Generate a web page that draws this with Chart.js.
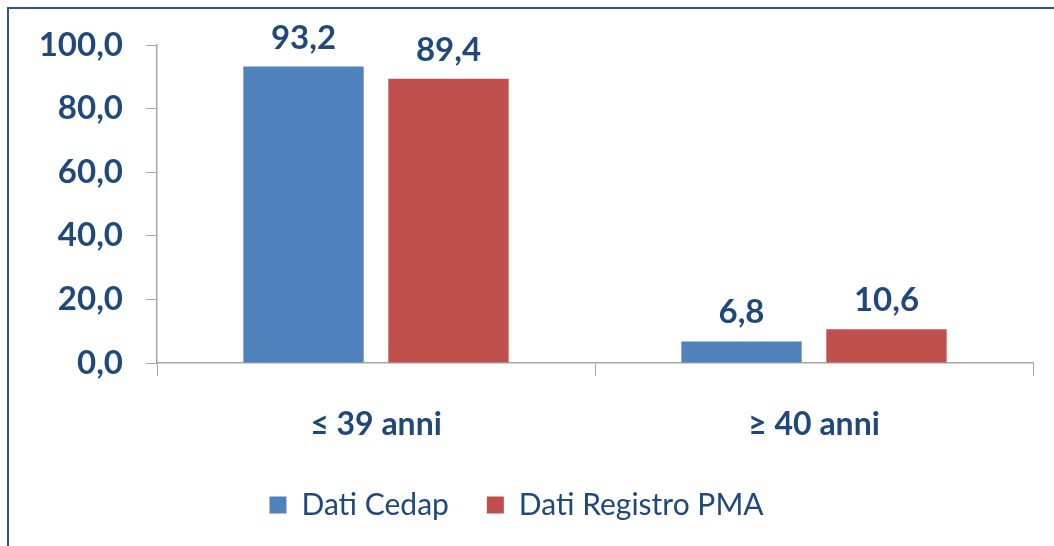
<!DOCTYPE html>
<html>
<head>
<meta charset="utf-8">
<script src="https://cdn.jsdelivr.net/npm/chart.js@4"></script>
<style>
    html, body { margin: 0; padding: 0; background: #ffffff; }
    #wrap { position: relative; width: 1054px; height: 546px; overflow: hidden; }
    #frame { position: absolute; left: 7px; top: 7px; width: 1100px; height: 600px;
             border-left: 2px solid #2b5591; border-top: 2px solid #2b5591; }
    #chart { position: absolute; left: 0; top: 0; }
</style>
</head>
<body>
<div id="wrap">
    <div id="frame"></div>
    <canvas id="chart" width="1054" height="546"></canvas>
</div>
<script>
const categories = ['≤ 39 anni', '≥ 40 anni'];
const seriesNames = ['Dati Cedap', 'Dati Registro PMA'];
const cedapValues = [93.2, 6.8];
const registroValues = [89.4, 10.6];
const yTicks = [0, 20, 40, 60, 80, 100];

const textColor = '#1f497d';
const axisColor = '#a6a6a6';

function fmt(v) {
    return v.toFixed(1).replace('.', ',');
}

// etichette sopra le barre
const valueLabels = {
    id: 'valueLabels',
    afterDatasetsDraw(chart) {
        const ctx = chart.ctx;
        ctx.save();
        ctx.font = 'bold 33px Lato';
        ctx.fillStyle = textColor;
        ctx.textAlign = 'center';
        ctx.textBaseline = 'alphabetic';
        chart.data.datasets.forEach((ds, i) => {
            chart.getDatasetMeta(i).data.forEach((bar, j) => {
                ctx.fillText(fmt(ds.data[j]), bar.x, bar.y - 18);
            });
        });
        ctx.restore();
    }
};

const ctx = document.getElementById('chart').getContext('2d');
new Chart(ctx, {
    type: 'bar',
    data: {
        labels: categories,
        datasets: [{
            label: seriesNames[0],
            data: cedapValues,
            backgroundColor: '#4f81bd',
            categoryPercentage: 0.662,
            barPercentage: 0.83
        }, {
            label: seriesNames[1],
            data: registroValues,
            backgroundColor: '#c0504d',
            categoryPercentage: 0.662,
            barPercentage: 0.83
        }]
    },
    options: {
        responsive: false,
        animation: false,
        devicePixelRatio: 1,
        layout: {
            padding: { top: 45, right: 21, left: 0, bottom: 16 }
        },
        plugins: {
            tooltip: { enabled: false },
            legend: {
                position: 'bottom',
                labels: {
                    color: textColor,
                    font: { family: 'Lato', size: 30 },
                    boxWidth: 17,
                    boxHeight: 17,
                    padding: 38
                }
            }
        },
        scales: {
            x: {
                offset: true,
                grid: {
                    offset: true,
                    drawOnChartArea: false,
                    color: axisColor,
                    tickLength: 13
                },
                border: { color: axisColor, width: 1.5 },
                ticks: {
                    color: textColor,
                    font: { family: 'Lato', size: 32, weight: 'bold' },
                    padding: 29
                },
                afterFit(scale) { scale.height = 89; }
            },
            y: {
                min: 0,
                max: 100,
                afterBuildTicks(scale) {
                    scale.ticks = yTicks.map(v => ({ value: v }));
                },
                grid: {
                    drawOnChartArea: false,
                    color: axisColor,
                    tickLength: 11
                },
                border: { color: axisColor, width: 1.5 },
                ticks: {
                    color: textColor,
                    font: { family: 'Lato', size: 33, weight: 'bold' },
                    padding: 23,
                    callback: v => fmt(v)
                },
                afterFit(scale) { scale.width = 157; }
            }
        }
    },
    plugins: [valueLabels]
});
</script>
</body>
</html>
